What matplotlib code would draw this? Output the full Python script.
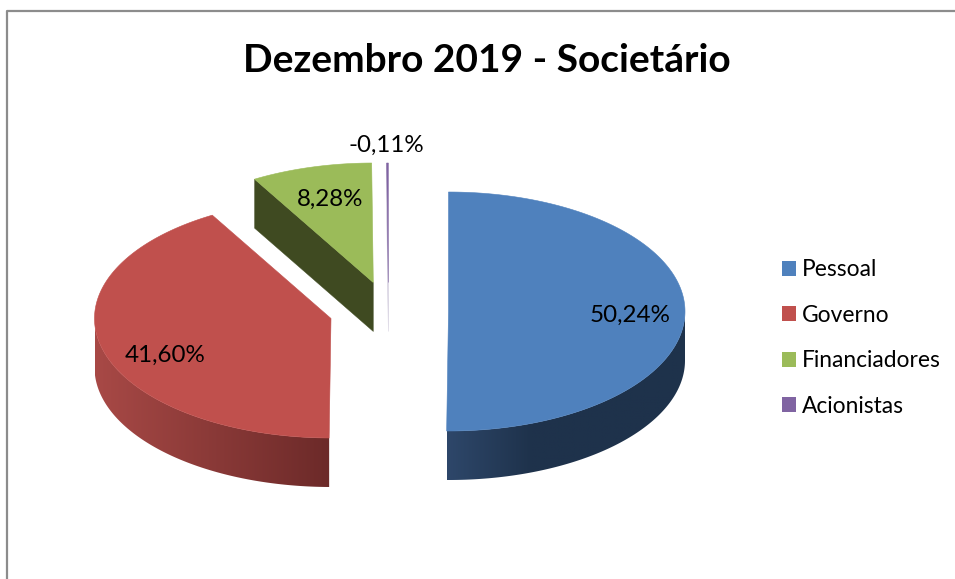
import numpy as np
import matplotlib
matplotlib.use("Agg")
import matplotlib.pyplot as plt
from matplotlib.patches import Polygon, Patch

# ---- data ----
categories = ["Pessoal", "Governo", "Financiadores", "Acionistas"]
values = [50.24, 41.60, 8.28, -0.11]
title = "Dezembro 2019 - Societário"

# ---- style / layout ----
colors = ["#4F81BD", "#C0504D", "#9BBB59", "#8064A2"]
wall_left = [(46, 71, 106), (168, 73, 70), None, None]
wall_right = [(30, 50, 75), (108, 42, 41), None, None]
wall_ramp = [85.0, None, None, None]  # px over which the shade changes (None = whole width)
face_colors = [None, None, "#3F4A21", "#C9C2D6"]
apexes = [(448.5, 311.5), (331.0, 318.5), (373.3, 282.5), (388.3, 282.5)]
RX, RY, DEPTH = 236.5, 119.5, 49.0
label_xy = [(630, 315), (165, 355), (330, 199), (386, 145)]

plt.rcParams["font.family"] = ["Lato", "DejaVu Sans"]
fig = plt.figure(figsize=(9.55, 5.79), dpi=100)
ax = fig.add_axes([0, 0, 1, 1])
ax.set_xlim(0, 955)
ax.set_ylim(579, 0)
ax.axis("off")

# chart frame (only the top and left edges fall inside the picture)
ax.plot([6.5, 6.5, 955], [579, 10.5, 10.5], color="#8C8C8C", lw=1.6, solid_capstyle="butt", zorder=1)


def pt(c, th, dy=0.0):
    return c[0] + RX * np.sin(th), c[1] - RY * np.cos(th) + dy


total = sum(abs(v) for v in values)
start = 0.0
for v, col, wl, wr, ramp, face, c in zip(values, colors, wall_left, wall_right, wall_ramp, face_colors, apexes):
    sweep = 360.0 * abs(v) / total
    a0, a1 = np.radians(start), np.radians(start + sweep)
    th = np.linspace(a0, a1, 300)

    # outer wall: only the front part (90..270 degrees) shows
    lo, hi = max(a0, np.pi / 2), min(a1, 3 * np.pi / 2)
    if hi > lo and wl is not None:
        t = np.linspace(lo, hi, 200)
        x, y = pt(c, t)
        outline = list(zip(x, y)) + list(zip(x[::-1], y[::-1] + DEPTH))
        xmin, xmax = x.min(), x.max()
        xx = np.linspace(xmin, xmax, 256)
        f = np.clip((xx - xmin) / (ramp if ramp else (xmax - xmin)), 0, 1)
        grad = np.stack([(wl[i] + (wr[i] - wl[i]) * f) / 255 for i in range(3)], axis=-1)[None, :, :]
        im = ax.imshow(grad, extent=(xmin, xmax, y.max() + DEPTH, y.min()), aspect="auto",
                       interpolation="bilinear", zorder=2)
        im.set_clip_path(Polygon(outline, closed=True, transform=ax.transData))

    # radial cut face at the starting angle
    if face is not None:
        ox, oy = pt(c, a0)
        ax.add_patch(Polygon([(ox, oy), c, (c[0], c[1] + DEPTH), (ox, oy + DEPTH)],
                             closed=True, fc=face, ec=face, lw=0.3, zorder=2))

    # top surface
    x, y = pt(c, th)
    ax.add_patch(Polygon([c] + list(zip(x, y)), closed=True, fc=col, ec=col, lw=0.4, zorder=3))
    start += sweep

ax.set_xlim(0, 955)
ax.set_ylim(579, 0)

for v, (lx, ly) in zip(values, label_xy):
    ax.text(lx, ly, f"{v:.2f}".replace(".", ",") + "%", fontsize=17.4, color="black",
            ha="center", va="center", zorder=5)

ax.text(487, 61, title, fontsize=28, fontweight="bold", color="black", ha="center", va="center", zorder=5)

handles = [Patch(fc=col, ec="none", label=n) for col, n in zip(colors, categories)]
ax.legend(handles=handles, loc="center left", bbox_to_anchor=(782, 338), bbox_transform=ax.transData,
          frameon=False, fontsize=16.4, handlelength=0.62, handleheight=0.62, handletextpad=0.25,
          labelspacing=1.075, borderpad=0, borderaxespad=0, labelcolor="black")

fig.savefig("out.png", dpi=100, facecolor="white")
